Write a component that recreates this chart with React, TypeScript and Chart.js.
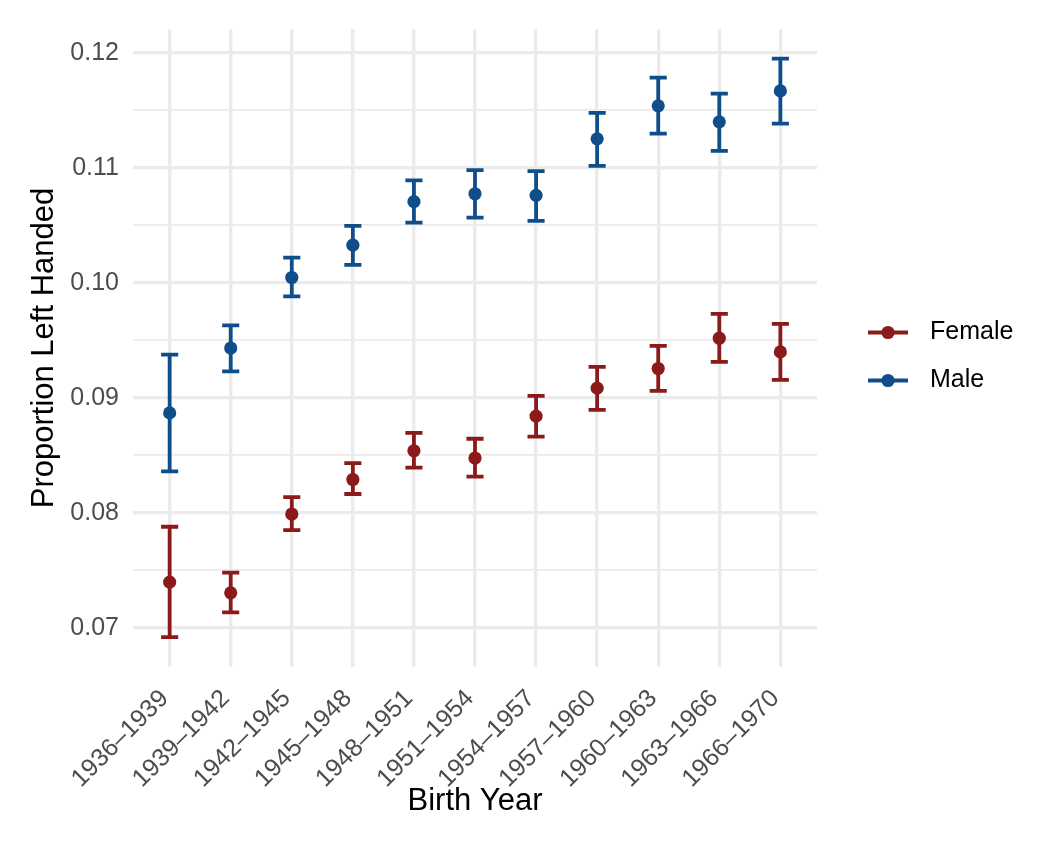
import React, { useEffect, useRef } from "react";
import { Chart, registerables } from "chart.js";

Chart.register(...registerables);

const categories = [
  "1936–1939", "1939–1942", "1942–1945", "1945–1948", "1948–1951", "1951–1954",
  "1954–1957", "1957–1960", "1960–1963", "1963–1966", "1966–1970",
];

const seriesNames = ["Female", "Male"];
const seriesColors = ["#8B1A1A", "#104E8B"];

const femaleMean = [0.07398, 0.07305, 0.0799, 0.0829, 0.0854, 0.08477, 0.08841, 0.09084, 0.09255, 0.09518, 0.09399];
const femaleLower = [0.06919, 0.07135, 0.0785, 0.08164, 0.08393, 0.08315, 0.08662, 0.08896, 0.09061, 0.09312, 0.09156];
const femaleUpper = [0.07879, 0.0748, 0.08137, 0.08432, 0.08696, 0.08644, 0.09017, 0.09269, 0.09451, 0.09729, 0.09642];

const maleMean = [0.08869, 0.09433, 0.10046, 0.10327, 0.10705, 0.10774, 0.1076, 0.11251, 0.11538, 0.11399, 0.11668];
const maleLower = [0.0836, 0.0923, 0.09881, 0.10156, 0.10523, 0.10566, 0.10538, 0.11017, 0.11297, 0.11147, 0.11384];
const maleUpper = [0.09375, 0.09629, 0.10219, 0.10494, 0.1089, 0.1098, 0.10971, 0.11477, 0.11783, 0.11644, 0.11948];

const yMajorTicks = [0.07, 0.08, 0.09, 0.1, 0.11, 0.12];
const yMinorTicks = [0.075, 0.085, 0.095, 0.105, 0.115];

const means = [femaleMean, maleMean];
const lowers = [femaleLower, maleLower];
const uppers = [femaleUpper, maleUpper];

const FONT = "'Liberation Sans', Arial, sans-serif";
const GRID = "#EBEBEB";

const isMajor = (v: number) => yMajorTicks.some((m) => Math.abs(m - v) < 1e-9);

const errorBarPlugin = {
  id: "errorBars",
  beforeDatasetsDraw(chart: any) {
    const { ctx, scales } = chart;
    const xs = scales.x;
    const ys = scales.y;
    ctx.save();
    chart.data.datasets.forEach((ds: any, i: number) => {
      ctx.strokeStyle = seriesColors[i];
      ctx.lineWidth = 3.8;
      ctx.lineCap = "butt";
      lowers[i].forEach((lo: number, j: number) => {
        const hi = uppers[i][j];
        const x = xs.getPixelForValue(j);
        const xl = xs.getPixelForValue(j - 0.14);
        const xr = xs.getPixelForValue(j + 0.14);
        const yl = ys.getPixelForValue(lo);
        const yh = ys.getPixelForValue(hi);
        ctx.beginPath();
        ctx.moveTo(x, yl);
        ctx.lineTo(x, yh);
        ctx.moveTo(xl, yl);
        ctx.lineTo(xr, yl);
        ctx.moveTo(xl, yh);
        ctx.lineTo(xr, yh);
        ctx.stroke();
      });
    });
    ctx.restore();
  },
};

const legendPlugin = {
  id: "customLegend",
  afterDraw(chart: any) {
    const { ctx, chartArea } = chart;
    const x0 = chartArea.right + 51;
    const midY = (chartArea.top + chartArea.bottom) / 2 + 8.5;
    ctx.save();
    seriesNames.forEach((name, i) => {
      const y = midY - 24 + i * 48;
      ctx.strokeStyle = seriesColors[i];
      ctx.fillStyle = seriesColors[i];
      ctx.lineWidth = 4;
      ctx.beginPath();
      ctx.moveTo(x0, y);
      ctx.lineTo(x0 + 40, y);
      ctx.stroke();
      ctx.beginPath();
      ctx.arc(x0 + 20, y, 6.6, 0, Math.PI * 2);
      ctx.fill();
      ctx.fillStyle = "#000000";
      ctx.font = `25px ${FONT}`;
      ctx.textAlign = "left";
      ctx.textBaseline = "middle";
      ctx.fillText(name, x0 + 62, y);
    });
    ctx.restore();
  },
};

export default function App() {
  const canvasRef = useRef<HTMLCanvasElement | null>(null);

  useEffect(() => {
    document.body.style.margin = "0";
    const canvas = canvasRef.current;
    if (!canvas) return;
    const chart = new Chart(canvas, {
      type: "scatter",
      data: {
        datasets: seriesNames.map((name, i) => ({
          label: name,
          data: means[i].map((v, j) => ({ x: j, y: v })),
          backgroundColor: seriesColors[i],
          borderColor: seriesColors[i],
          pointRadius: 6.6,
          pointBorderWidth: 0,
          pointHoverRadius: 6.6,
          showLine: false,
        })),
      },
      options: {
        responsive: false,
        animation: false,
        events: [],
        layout: { padding: { top: 28, right: 230, bottom: 0, left: 0 } },
        plugins: {
          legend: { display: false },
          tooltip: { enabled: false },
        },
        scales: {
          x: {
            type: "linear",
            min: -0.6,
            max: 10.6,
            afterBuildTicks: (scale: any) => {
              scale.ticks = categories.map((_, j) => ({ value: j }));
            },
            afterFit: (scale: any) => {
              scale.height = 180;
            },
            border: { display: false },
            grid: { color: GRID, lineWidth: 3.4, drawTicks: false },
            ticks: {
              autoSkip: false,
              minRotation: 45,
              maxRotation: 45,
              padding: 17,
              labelOffset: -5,
              color: "#4D4D4D",
              font: { family: FONT, size: 25 },
              callback: (v: any) => categories[Math.round(Number(v))] ?? "",
            },
            title: {
              display: true,
              text: "Birth Year",
              color: "#000000",
              font: { family: FONT, size: 31 },
              padding: { top: 0, bottom: 27 },
            },
          },
          y: {
            type: "linear",
            min: 0.0666,
            max: 0.12206,
            afterBuildTicks: (scale: any) => {
              scale.ticks = [...yMajorTicks, ...yMinorTicks]
                .sort((a, b) => a - b)
                .map((v) => ({ value: v }));
            },
            afterFit: (scale: any) => {
              scale.width = 133;
            },
            border: { display: false },
            grid: {
              color: GRID,
              drawTicks: false,
              lineWidth: (c: any) => (c.tick && isMajor(c.tick.value) ? 3.3 : 1.8),
            },
            ticks: {
              autoSkip: false,
              padding: 14,
              color: "#4D4D4D",
              font: { family: FONT, size: 25 },
              callback: (v: any) => (isMajor(Number(v)) ? Number(v).toFixed(2) : ""),
            },
            title: {
              display: true,
              text: "Proportion Left Handed",
              color: "#000000",
              font: { family: FONT, size: 31 },
              padding: { top: 26, bottom: 0 },
            },
          },
        },
      },
      plugins: [errorBarPlugin, legendPlugin],
    } as any);
    return () => chart.destroy();
  }, []);

  return (
    <div style={{ width: 1047, height: 847 }}>
      <canvas ref={canvasRef} width={1047} height={847} style={{ display: "block" }} />
    </div>
  );
}
